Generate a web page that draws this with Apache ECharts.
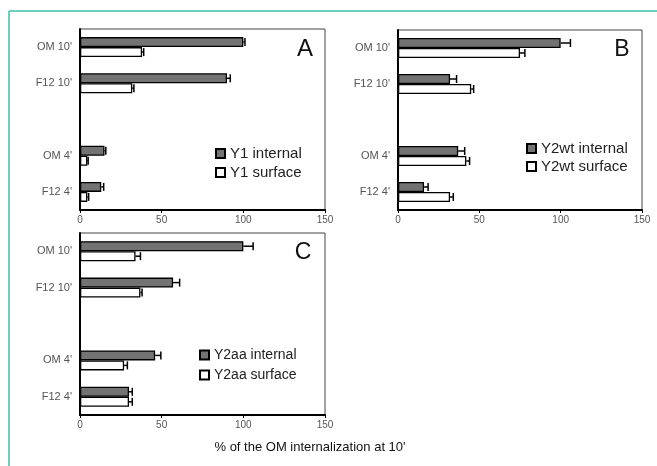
<!DOCTYPE html>
<html>
<head>
<meta charset="utf-8">
<script src="https://cdn.jsdelivr.net/npm/echarts@6/dist/echarts.min.js"></script>
<style>
  html, body { margin: 0; padding: 0; background: #fff; }
  #chart_id { width: 657px; height: 466px; }
</style>
</head>
<body>
<div id="chart_id"></div>
<script>
// categories (blank slot keeps the gap between 10' and 4')
var categories = ["OM 10'", "F12 10'", "", "OM 4'", "F12 4'"];
var xTicks = [0, 50, 100, 150];

// panel A
var y1Internal = [100, 90, '-', 15, 13];
var y1InternalErr = [1, 2, 0, 0.8, 1.5];
var y1Surface = [38, 32, '-', 4.5, 4.5];
var y1SurfaceErr = [1, 1, 0, 0.5, 0.8];

// panel B
var y2wtInternal = [100, 32, '-', 37, 16];
var y2wtInternalErr = [6, 4, 0, 4, 2.5];
var y2wtSurface = [75, 45, '-', 42, 32];
var y2wtSurfaceErr = [3, 1.5, 0, 2, 2];

// panel C
var y2aaInternal = [100, 57, '-', 46, 30];
var y2aaInternalErr = [6, 4, 0, 3.5, 2];
var y2aaSurface = [34, 37, '-', 27, 30];
var y2aaSurfaceErr = [3, 1, 0, 2, 2];

var BAR_W = 10;

function errSeries(idx, vals, errs, side) {
  var data = [];
  for (var i = 0; i < vals.length; i++) {
    if (vals[i] === '-') continue;
    data.push([vals[i], i, errs[i]]);
  }
  return {
    type: 'custom',
    xAxisIndex: idx,
    yAxisIndex: idx,
    silent: true,
    z: 5,
    data: data,
    renderItem: function (params, api) {
      var v = api.value(0), c = api.value(1), e = api.value(2);
      var p0 = api.coord([v, c]);
      var p1 = api.coord([v + e, c]);
      var y = p0[1] + side * BAR_W / 2;
      var half = BAR_W / 2 - 1;
      return {
        type: 'group',
        children: [
          { type: 'line', shape: { x1: p0[0], y1: y, x2: p1[0], y2: y }, style: { stroke: '#000', lineWidth: 1.5 } },
          { type: 'line', shape: { x1: p1[0], y1: y - half, x2: p1[0], y2: y + half }, style: { stroke: '#000', lineWidth: 1.5 } }
        ]
      };
    }
  };
}

function barSeries(idx, name, vals, fill) {
  return {
    name: name,
    type: 'bar',
    xAxisIndex: idx,
    yAxisIndex: idx,
    data: vals,
    barWidth: BAR_W,
    barGap: '0%',
    itemStyle: { color: fill, borderColor: '#000', borderWidth: 1.3 }
  };
}

function xAx(idx) {
  return {
    type: 'value', gridIndex: idx, min: 0, max: 150, interval: 50,
    splitLine: { show: false },
    axisLine: { show: true, lineStyle: { color: '#000', width: 2 } },
    axisTick: { show: true, length: 3, lineStyle: { color: '#000' } },
    axisLabel: { color: '#555', fontSize: 10, margin: 5, fontFamily: 'Liberation Sans',
      formatter: function (v) { return xTicks.indexOf(v) >= 0 ? String(v) : ''; } }
  };
}

function yAx(idx) {
  return {
    type: 'category', gridIndex: idx, data: categories, inverse: true,
    axisLine: { show: true, onZero: false, lineStyle: { color: '#000', width: 2 } },
    axisTick: { show: false },
    axisLabel: { color: '#555', fontSize: 11, margin: 8, fontFamily: 'Liberation Sans' }
  };
}

var gridBase = { show: true, borderColor: '#444', borderWidth: 1, containLabel: false };

var legendText = { color: '#222', fontFamily: 'Liberation Sans' };

var option = {
  animation: false,
  backgroundColor: '#fff',
  grid: [
    Object.assign({ left: 80, top: 29, width: 245, height: 181 }, gridBase),
    Object.assign({ left: 398, top: 30, width: 244, height: 180 }, gridBase),
    Object.assign({ left: 80, top: 233, width: 245, height: 182 }, gridBase)
  ],
  xAxis: [xAx(0), xAx(1), xAx(2)],
  yAxis: [yAx(0), yAx(1), yAx(2)],
  legend: [
    { data: ['Y1 internal', 'Y1 surface'], orient: 'vertical', left: 210, top: 141, icon: 'rect', itemWidth: 9, itemHeight: 9, itemGap: 4,
      textStyle: Object.assign({ fontSize: 15 }, legendText) },
    { data: ['Y2wt internal', 'Y2wt surface'], orient: 'vertical', left: 521, top: 136, icon: 'rect', itemWidth: 9, itemHeight: 9, itemGap: 3,
      textStyle: Object.assign({ fontSize: 15 }, legendText) },
    { data: ['Y2aa internal', 'Y2aa surface'], orient: 'vertical', left: 194, top: 343, icon: 'rect', itemWidth: 9, itemHeight: 9, itemGap: 6,
      textStyle: Object.assign({ fontSize: 14 }, legendText) }
  ],
  graphic: [
    // teal frame
    { type: 'line', shape: { x1: 9, y1: 11, x2: 657, y2: 11 }, style: { stroke: '#3dbfa6', lineWidth: 1.5 } },
    { type: 'line', shape: { x1: 9, y1: 11, x2: 9, y2: 466 }, style: { stroke: '#3dbfa6', lineWidth: 1.5 } },
    // panel letters
    { type: 'text', x: 305, y: 49, style: { text: 'A', fontSize: 24, fill: '#111', fontFamily: 'Liberation Sans', align: 'center', verticalAlign: 'middle' } },
    { type: 'text', x: 622, y: 50, style: { text: 'B', fontSize: 23, fill: '#111', fontFamily: 'Liberation Sans', align: 'center', verticalAlign: 'middle' } },
    { type: 'text', x: 303, y: 253, style: { text: 'C', fontSize: 23, fill: '#111', fontFamily: 'Liberation Sans', align: 'center', verticalAlign: 'middle' } },
    // shared axis title
    { type: 'text', x: 310, y: 447, style: { text: "% of the OM internalization at 10'", fontSize: 13, fill: '#111', fontFamily: 'Liberation Sans', align: 'center', verticalAlign: 'middle' } }
  ],
  series: [
    barSeries(0, 'Y1 internal', y1Internal, '#737373'),
    barSeries(0, 'Y1 surface', y1Surface, '#fff'),
    errSeries(0, y1Internal, y1InternalErr, -1),
    errSeries(0, y1Surface, y1SurfaceErr, 1),
    barSeries(1, 'Y2wt internal', y2wtInternal, '#737373'),
    barSeries(1, 'Y2wt surface', y2wtSurface, '#fff'),
    errSeries(1, y2wtInternal, y2wtInternalErr, -1),
    errSeries(1, y2wtSurface, y2wtSurfaceErr, 1),
    barSeries(2, 'Y2aa internal', y2aaInternal, '#737373'),
    barSeries(2, 'Y2aa surface', y2aaSurface, '#fff'),
    errSeries(2, y2aaInternal, y2aaInternalErr, -1),
    errSeries(2, y2aaSurface, y2aaSurfaceErr, 1)
  ]
};

var chart = echarts.init(document.getElementById('chart_id'));
chart.setOption(option);
</script>
</body>
</html>
